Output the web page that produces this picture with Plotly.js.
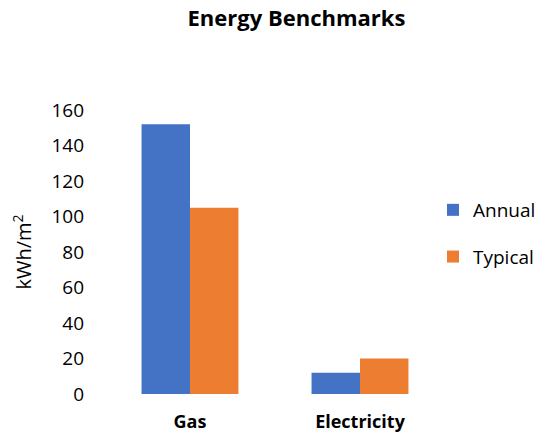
<!DOCTYPE html>
<html>
<head>
<meta charset="utf-8">
<script src="https://cdn.plot.ly/plotly-3.0.1.min.js"></script>
<style>
  html, body { margin: 0; padding: 0; background: #fff; }
  #chart { width: 551px; height: 439px; }
</style>
</head>
<body>
<div id="chart"></div>
<script>
// Energy use intensity per fuel, kWh per square metre
const categories = ['Gas', 'Electricity'];
const annualValues = [152, 12];
const typicalValues = [105, 20];
const seriesNames = ['Annual', 'Typical'];
const yTicks = [0, 20, 40, 60, 80, 100, 120, 140, 160];

const FONT = '"Open Sans", Lato, sans-serif';

const traces = [
  {
    type: 'bar',
    name: seriesNames[0],
    x: categories,
    y: annualValues,
    marker: { color: '#4472C4' },
    legendgroup: 'a',
    hoverinfo: 'x+y'
  },
  {
    type: 'bar',
    name: seriesNames[1],
    x: categories,
    y: typicalValues,
    marker: { color: '#ED7D31' },
    legendgroup: 'b',
    hoverinfo: 'x+y'
  }
];

const layout = {
  width: 551,
  height: 439,
  margin: { l: 105, r: 106, t: 110, b: 45, autoexpand: false },
  paper_bgcolor: '#ffffff',
  plot_bgcolor: '#ffffff',
  font: { family: FONT, color: '#000000', size: 19 },
  title: {
    text: '<b>Energy Benchmarks</b>',
    font: { family: FONT, size: 22, color: '#000000' },
    x: 0.538,
    xanchor: 'center',
    xref: 'container',
    yref: 'container',
    y: 1 - 18 / 439,
    yanchor: 'middle'
  },
  barmode: 'group',
  bargap: 0.43,
  bargroupgap: 0,
  xaxis: {
    type: 'category',
    automargin: false,
    showgrid: false,
    showline: false,
    zeroline: false,
    ticks: '',
    tickfont: { family: FONT, size: 18, color: '#000000', weight: 'bold' },
    ticklabelstandoff: 15
  },
  yaxis: {
    range: [0, 160],
    automargin: false,
    tickvals: yTicks,
    ticktext: yTicks.map(String),
    showgrid: false,
    showline: false,
    zeroline: false,
    ticks: '',
    tickfont: { family: FONT, size: 19, color: '#000000' },
    ticklabelstandoff: 20,
    title: {
      text: 'kWh/m<sup>2</sup>',
      font: { family: FONT, size: 20, color: '#000000' },
      standoff: 14
    }
  },
  showlegend: true,
  legend: {
    xref: 'container',
    yref: 'container',
    x: 433 / 551,
    xanchor: 'left',
    y: 1 - 233.5 / 439,
    yanchor: 'middle',
    traceorder: 'grouped',
    tracegroupgap: 19,
    font: { family: FONT, size: 19, color: '#000000' },
    bgcolor: 'rgba(0,0,0,0)'
  }
};

Plotly.newPlot('chart', traces, layout, { displayModeBar: false, staticPlot: true });
</script>
</body>
</html>
